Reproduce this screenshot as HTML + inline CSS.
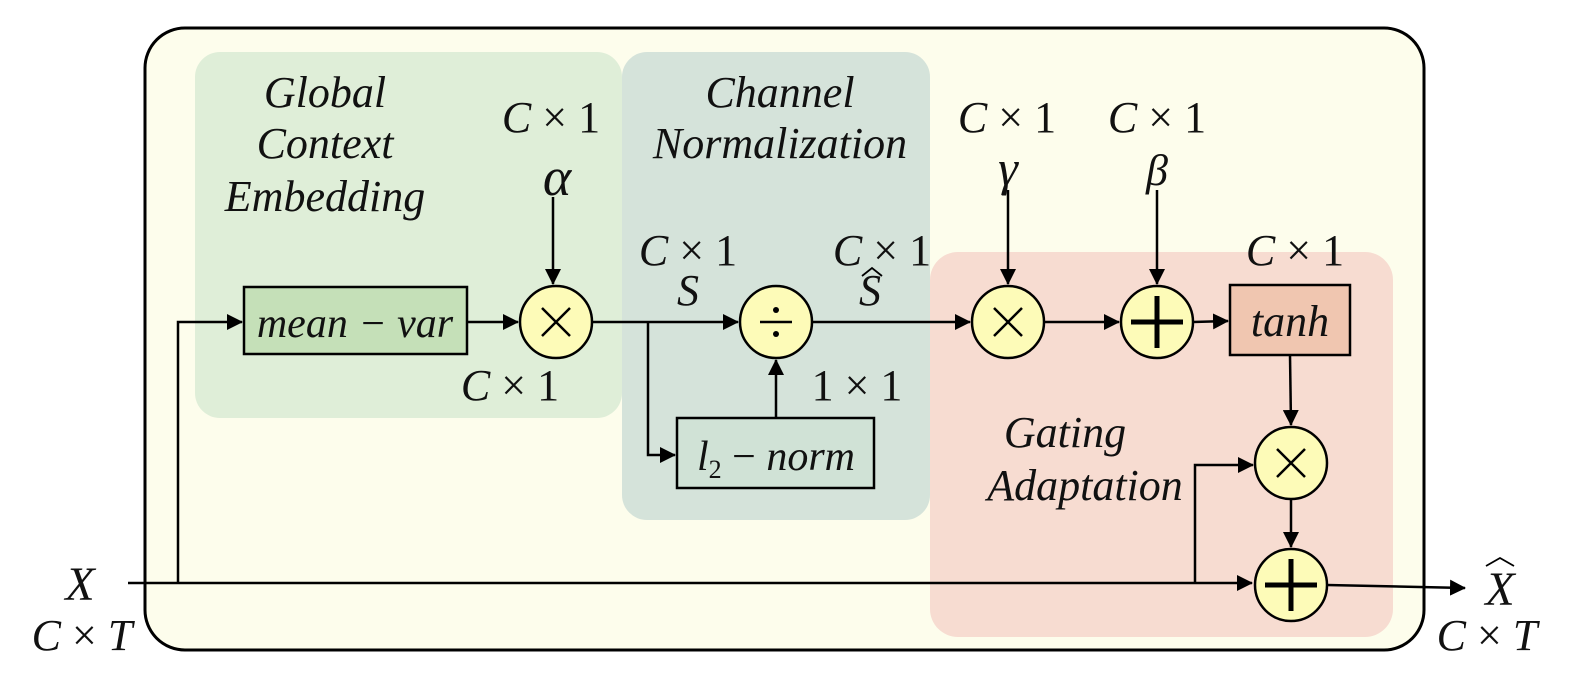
<!DOCTYPE html>
<html><head><style>body{margin:0;background:#fff}svg text{font-family:"Liberation Serif",serif}</style></head><body>
<svg width="1578" height="676" viewBox="0 0 1578 676" xmlns="http://www.w3.org/2000/svg">
<defs>
<marker id="b" markerWidth="16" markerHeight="16" refX="15" refY="8" orient="auto" markerUnits="userSpaceOnUse" viewBox="0 0 16 16"><path d="M0,0 L16,8 L0,16z" fill="#000"/></marker></defs>
<rect x="145" y="28" width="1279" height="622" rx="40" fill="#fdfdec" stroke="#000" stroke-width="3"/>
<rect x="195" y="52" width="427" height="366" rx="25" fill="#dfeed8"/>
<rect x="622" y="52" width="308" height="468" rx="25" fill="#d5e3da"/>
<rect x="930" y="252" width="463" height="385" rx="28" fill="#f7dcd1"/>
<g font-style="italic" font-size="44" fill="#111" text-anchor="middle">
<text x="325" y="107">Global</text><text x="325" y="158">Context</text><text x="325" y="211">Embedding</text>
<text x="780" y="107">Channel</text><text x="780" y="158">Normalization</text>
<text x="1065" y="447">Gating</text><text x="1085" y="500">Adaptation</text>
</g>
<g fill="none" stroke="#000" stroke-width="2.5">
<path d="M128,583 H1252" marker-end="url(#b)"/>
<path d="M1327,585 L1465,588" marker-end="url(#b)"/>
<path d="M178,583 V322 H242" marker-end="url(#b)"/>
<path d="M467,322 H518" marker-end="url(#b)"/>
<path d="M592,322 H738" marker-end="url(#b)"/>
<path d="M648,322 V455 H675" marker-end="url(#b)"/>
<path d="M776,418 V360" marker-end="url(#b)"/>
<path d="M812,322 H970" marker-end="url(#b)"/>
<path d="M1044,322 H1119" marker-end="url(#b)"/>
<path d="M1193,322 L1228,321" marker-end="url(#b)"/>
<path d="M553,197 V284" marker-end="url(#b)"/>
<path d="M1008,190 V284" marker-end="url(#b)"/>
<path d="M1157,190 V284" marker-end="url(#b)"/>
<path d="M1290,355 L1291,425" marker-end="url(#b)"/>
<path d="M1291,499 V547" marker-end="url(#b)"/>
<path d="M1195,583 V465 H1253" marker-end="url(#b)"/>
</g>
<rect x="244" y="287" width="223" height="67" fill="#c5e0b8" stroke="#000" stroke-width="2.5"/>
<rect x="677" y="418" width="197" height="70" fill="#d0e2d6" stroke="#000" stroke-width="2.5"/>
<rect x="1230" y="285" width="120" height="70" fill="#f0c6b0" stroke="#000" stroke-width="2.5"/>
<g fill="#fdfbb8" stroke="#000" stroke-width="2.5">
<circle cx="556" cy="322" r="36"/><circle cx="776" cy="322" r="36"/><circle cx="1008" cy="322" r="36"/><circle cx="1157" cy="322" r="36"/><circle cx="1291" cy="463" r="36"/><circle cx="1291" cy="585" r="36"/>
</g>
<g stroke="#000" stroke-width="2.5"><path d="M542,308 L570,336 M570,308 L542,336"/><path d="M994,308 L1022,336 M1022,308 L994,336"/><path d="M1277,449 L1305,477 M1305,449 L1277,477"/><path d="M760,322 H792"/></g>
<circle cx="776" cy="310" r="3" fill="#000"/><circle cx="776" cy="334" r="3" fill="#000"/>
<g stroke="#000" stroke-width="5"><path d="M1131,322 H1183 M1157,296 V348"/><path d="M1265,585 H1317 M1291,559 V611"/></g>
<g fill="none" stroke="#000" stroke-width="1.8"><path d="M862,276 L872,268 L882,276"/><path d="M1486,566 L1500,558 L1514,566"/></g>
<g font-size="44" fill="#111" text-anchor="middle">
<text x="355" y="337" font-style="italic" font-size="42">mean − var</text>
<text x="776" y="470" font-size="42"><tspan font-style="italic">l</tspan><tspan font-size="26" dy="8">2</tspan><tspan dy="-8"> − </tspan><tspan font-style="italic">norm</tspan></text>
<text x="1290" y="336" font-style="italic">tanh</text>
<text x="510" y="400"><tspan font-style="italic">C</tspan> × 1</text>
<text x="551" y="132"><tspan font-style="italic">C</tspan> × 1</text>
<text x="557" y="195" font-size="54" font-style="italic">α</text>
<text x="688" y="265"><tspan font-style="italic">C</tspan> × 1</text>
<text x="688" y="305" font-style="italic">S</text>
<text x="882" y="265"><tspan font-style="italic">C</tspan> × 1</text>
<text x="870" y="305" font-style="italic">S</text>
<text x="857" y="400">1 × 1</text>
<text x="1007" y="132"><tspan font-style="italic">C</tspan> × 1</text>
<text x="1008" y="185" font-size="50" font-style="italic">γ</text>
<text x="1157" y="132"><tspan font-style="italic">C</tspan> × 1</text>
<text x="1157" y="185" font-style="italic">β</text>
<text x="1295" y="265"><tspan font-style="italic">C</tspan> × 1</text>
<text x="80" y="600" font-size="48" font-style="italic">X</text>
<text x="82" y="650"><tspan font-style="italic">C</tspan> × <tspan font-style="italic">T</tspan></text>
<text x="1500" y="605" font-size="48" font-style="italic">X</text>
<text x="1487" y="650"><tspan font-style="italic">C</tspan> × <tspan font-style="italic">T</tspan></text>
</g>
</svg>
</body></html>
